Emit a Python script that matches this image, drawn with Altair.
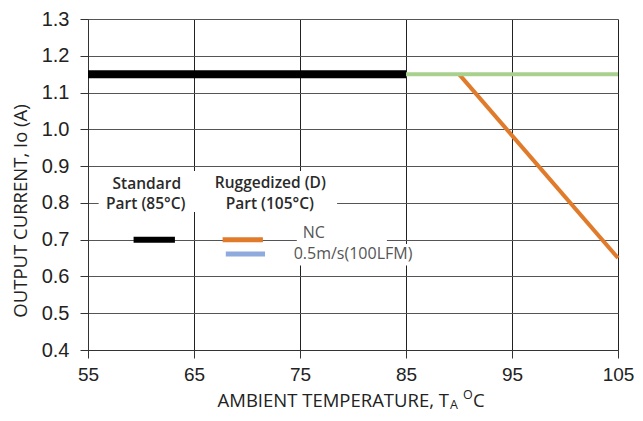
import altair as alt
import pandas as pd

# ---- data ----
temps_std = [55, 85]
cur_std = [1.15, 1.15]
temps_air = [85, 105]
cur_air = [1.15, 1.15]
temps_nc = [90, 105]
cur_nc = [1.15, 0.65]

x_ticks = [55, 65, 75, 85, 95, 105]
y_ticks = [0.4, 0.5, 0.6, 0.7, 0.8, 0.9, 1.0, 1.1, 1.2, 1.3]

# legend annotations, in data units
group_labels = ["Standard", "Part (85°C)", "Ruggedized (D)", "Part (105°C)"]
group_x = [60.55, 60.45, 72.2, 72.15]
group_y = [0.852, 0.797, 0.855, 0.797]

series_labels = ["NC", "0.5m/s(100LFM)"]
series_x = [76.3, 80.0]
series_y = [0.718, 0.661]

sample_std_x = [59.3, 63.2]
sample_std_y = [0.70, 0.70]
sample_nc_x = [67.7, 71.5]
sample_nc_y = [0.70, 0.70]
sample_air_x = [68.0, 71.7]
sample_air_y = [0.661, 0.661]

# white label backgrounds (cover grid lines), in data units
box_x = [56.0, 74.7, 74.0]
box_x2 = [78.5, 83.2, 86.2]
box_y = [0.887, 0.775, 0.688]
box_y2 = [0.775, 0.677, 0.630]

BLACK = "#000000"
ORANGE = "#e07b2b"
GREEN = "#a9d18e"
BLUE = "#8faadc"

xscale = alt.Scale(domain=[55, 105], nice=False, zero=False)
yscale = alt.Scale(domain=[0.4, 1.3], nice=False, zero=False)

xaxis = alt.Axis(values=x_ticks, grid=True, gridColor="#222", gridWidth=1,
                 tickSize=8, tickColor="#333", domainColor="#333",
                 labelFont="Liberation Sans", labelFontSize=19, labelColor="#222",
                 labelPadding=7, title=None, labelFlush=False, labelOverlap=False)
yaxis = alt.Axis(values=y_ticks, format=".1f", grid=True, gridColor="#555", gridWidth=1,
                 tickSize=8, tickColor="#333", domainColor="#333",
                 labelFont="Liberation Sans", labelFontSize=20, labelColor="#222",
                 labelPadding=11, title=None, labelFlush=False, labelOverlap=False)


def X(field):
    return alt.X(field, scale=xscale, axis=xaxis)


def Y(field):
    return alt.Y(field, scale=yscale, axis=yaxis)


def line_layer(xs, ys, color, width):
    df = pd.DataFrame({"t": xs, "c": ys})
    return alt.Chart(df).mark_line(color=color, strokeWidth=width, strokeCap="butt").encode(
        x=X("t:Q"), y=Y("c:Q"))


boxes = alt.Chart(pd.DataFrame({"x": box_x, "x2": box_x2, "y": box_y, "y2": box_y2})).mark_rect(
    fill="white"
).encode(x=X("x:Q"), x2="x2:Q", y=Y("y:Q"), y2="y2:Q")

nc = line_layer(temps_nc, cur_nc, ORANGE, 4)
air = line_layer(temps_air, cur_air, GREEN, 4)
std = line_layer(temps_std, cur_std, BLACK, 8)

s_std = line_layer(sample_std_x, sample_std_y, BLACK, 6)
s_nc = line_layer(sample_nc_x, sample_nc_y, ORANGE, 5)
s_air = line_layer(sample_air_x, sample_air_y, BLUE, 5)

group_text = alt.Chart(pd.DataFrame({"x": group_x, "y": group_y, "lab": group_labels})).mark_text(
    font="Open Sans", fontSize=15.5, fontWeight=600, color="#2a2a2a", align="center", baseline="middle"
).encode(x=X("x:Q"), y=Y("y:Q"), text="lab:N")

series_text = alt.Chart(pd.DataFrame({"x": series_x, "y": series_y, "lab": series_labels})).mark_text(
    font="Open Sans", fontSize=16, color="#555555", align="center", baseline="middle"
).encode(x=X("x:Q"), y=Y("y:Q"), text="lab:N")


def label(txt, x, y, size, align="left", baseline="alphabetic", angle=0):
    kw = dict(font="Open Sans", fontSize=size, color="#222", align=align, baseline=baseline)
    if angle:
        kw["angle"] = angle
    return alt.Chart(pd.DataFrame({"lab": [txt]})).mark_text(**kw).encode(
        x=alt.value(x), y=alt.value(y), text="lab:N")


ytitle = label("OUTPUT CURRENT, Io (A)", -67, 192, 18.5, align="center", baseline="middle", angle=270)
xt_main = label("AMBIENT TEMPERATURE, T", 361, 388, 18.5, align="right")
xt_sub = label("A", 362, 390, 12.5)
xt_sup = label("O", 375, 380, 12.5)
xt_c = label("C", 385, 388, 18.5)

chart = alt.layer(
    boxes, nc, air, std, s_std, s_nc, s_air, group_text, series_text,
    ytitle, xt_main, xt_sub, xt_sup, xt_c
).properties(
    width=530, height=331,
    autosize=alt.AutoSizeParams(type="none"),
    padding={"left": 80, "top": 11, "right": 17, "bottom": 63},
).configure_view(stroke=None)

chart.save("out.html", embed_options={"renderer": "svg", "actions": False})
